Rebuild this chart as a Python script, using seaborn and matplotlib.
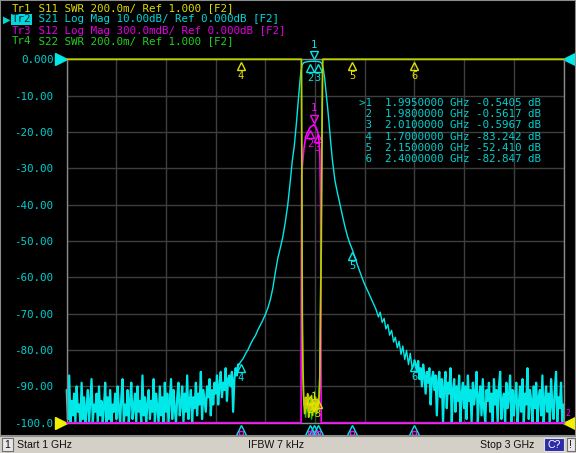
import numpy as np
import matplotlib
matplotlib.use("Agg")
import matplotlib.pyplot as plt
import seaborn as sns
from matplotlib.transforms import offset_copy
from matplotlib.patches import Rectangle

# === sweep: 1 GHz .. 3 GHz ===
f_start, f_stop = 1.0, 3.0

# S21 noise floor, left of the passband (dB)
noise_left_db = [
    -91, -99, -87, -101, -94, -98, -92, -104, -90, -97, -95, -100, -89, -99, -93, -102, -96, -91, -100, -94,
    -88, -101, -95, -97, -92, -103, -90, -98, -94, -100, -96, -89, -101, -93, -99, -91, -104, -95, -97, -92,
    -99, -90, -96, -101, -93, -88, -100, -95, -98, -91, -103, -94, -89, -99, -96, -92, -102, -90, -97, -94,
    -100, -87, -98, -93, -101, -95, -91, -99, -94, -97, -88, -102, -92, -96, -100, -90, -98, -93, -101, -89,
    -97, -92, -100, -94, -88, -99, -91, -96, -102, -93, -89, -98, -95, -90, -101, -92, -97, -87, -99, -94,
    -91, -100, -93, -96, -89, -98, -92, -95, -86, -99, -91, -94, -97, -90, -93, -88, -98, -91, -95, -89,
    -92, -87, -95, -90, -86, -93, -89, -91, -85, -94, -88, -87, -90, -86, -97, -88, -85, -87, -84,
]
# S21 filter skirts + passband
skirt_f = [
    1.695, 1.700, 1.710, 1.720, 1.730, 1.740, 1.750, 1.760, 1.770, 1.780, 1.790, 1.800, 1.810, 1.820,
    1.830, 1.840, 1.850, 1.860, 1.870, 1.880, 1.890, 1.900, 1.908, 1.916, 1.925, 1.932, 1.938, 1.943,
    1.948, 1.955, 1.965, 1.980, 1.995, 2.010, 2.020, 2.028, 2.034, 2.039, 2.043, 2.050, 2.056, 2.063,
    2.070, 2.080, 2.090, 2.096, 2.110, 2.120, 2.130, 2.140, 2.150, 2.160, 2.170, 2.180, 2.190, 2.200,
    2.215, 2.230, 2.245, 2.255, 2.262, 2.270, 2.278, 2.285, 2.293, 2.300, 2.308, 2.316, 2.323, 2.331,
    2.338, 2.346, 2.353, 2.361, 2.368, 2.376, 2.383, 2.391, 2.400,
]
skirt_db = [
    -83.9, -83.242, -82.4, -81.0, -79.9, -78.4, -77.1, -76.0, -74.4, -73.1, -71.7, -70.2, -68.4, -66.1,
    -62.9, -58.6, -54.7, -51.9, -48.9, -44.8, -40.0, -33.6, -28.0, -24.0, -17.4, -11.6, -6.8, -3.2,
    -1.5, -0.9, -0.70, -0.5617, -0.5405, -0.5967, -0.72, -1.2, -3.0, -5.6, -8.3, -13.0, -17.4, -23.0,
    -28.0, -33.4, -36.8, -38.6, -43.0, -46.0, -48.6, -50.7, -52.41, -54.4, -56.5, -58.4, -60.3, -62.0,
    -64.2, -66.5, -68.8, -70.9, -69.6, -72.4, -71.3, -74.2, -73.0, -75.9, -74.6, -77.8, -76.5, -79.4,
    -77.6, -81.2, -78.9, -82.6, -80.1, -84.0, -80.9, -85.2, -82.847,
]
# S21 noise floor, right of the passband
noise_right_db = [
    -84, -86, -83, -88, -85, -90, -84, -87, -92, -86, -89, -85, -95, -88, -86, -91, -87, -98, -89, -86,
    -93, -88, -101, -90, -86, -96, -89, -92, -85, -100, -91, -88, -97, -90, -94, -87, -102, -92, -89, -96,
    -90, -99, -87, -94, -91, -103, -89, -95, -92, -86, -100, -93, -90, -98, -88, -96, -101, -91, -94, -89,
    -97, -92, -100, -88, -95, -91, -103, -90, -86, -99, -94, -92, -101, -89, -96, -93, -87, -100, -91, -98,
    -93, -89, -102, -95, -90, -97, -88, -100, -92, -95, -85, -99, -91, -94, -103, -90, -96, -89, -101, -93,
    -91, -98, -87, -100, -94, -90, -97, -92, -102, -88, -95, -99, -91, -86, -100, -93, -96, -89, -101, -95,
]

# S12 (Log Mag 300 mdB/div)
s12_f = [1.000, 1.9435, 1.9445, 1.946, 1.950, 1.955, 1.962, 1.970, 1.980, 1.988, 1.995, 2.003,
         2.010, 2.015, 2.019, 2.022, 2.0245, 3.000]
s12_db = [-60, -6, -1.6, -0.95, -0.85, -0.74, -0.64, -0.60, -0.5617, -0.55, -0.5405, -0.56,
          -0.5967, -0.66, -0.76, -1.2, -6, -60]

# S11 / S22 (SWR 200m/div, ref 1.000 at bottom)
s11_f = [1.000, 1.9450, 1.9465, 1.9485, 1.951, 1.9545, 1.958, 1.962, 1.966, 1.970, 1.974, 1.978,
         1.982, 1.986, 1.990, 1.994, 1.998, 2.002, 2.006, 2.010, 2.014, 2.0185, 2.021, 2.025,
         2.028, 2.0305, 3.000]
s11_swr = [40, 3.3, 2.4, 1.6, 1.3, 1.12, 1.05, 1.14, 1.08, 1.16, 1.03, 1.11, 1.07, 1.15, 1.04,
           1.12, 1.06, 1.14, 1.05, 1.13, 1.08, 1.2, 1.5, 2.0, 2.6, 3.3, 40]
s22_swr = [40, 3.2, 2.3, 1.5, 1.25, 1.1, 1.09, 1.03, 1.12, 1.06, 1.15, 1.05, 1.13, 1.02, 1.10,
           1.07, 1.17, 1.04, 1.11, 1.06, 1.14, 1.25, 1.6, 2.1, 2.7, 3.4, 40]

# markers
marker_ids = ["1", "2", "3", "4", "5", "6"]
marker_f = [1.995, 1.980, 2.010, 1.700, 2.150, 2.400]
marker_s21 = [-0.5405, -0.5617, -0.5967, -83.242, -52.410, -82.847]
marker_s12 = [-0.5405, -0.5617, -0.5967]
marker_s11 = [1.05, 1.16, 1.14, 40, 40, 40]

# tick labels on the left
ytick_labels = ["-100.0", "-90.00", "-80.00", "-70.00", "-60.00", "-50.00",
                "-40.00", "-30.00", "-20.00", "-10.00", "0.000"]

header = [
    ("Tr1", " S11 SWR 200.0m/ Ref 1.000 [F2]", "#dede00"),
    ("Tr2", " S21 Log Mag 10.00dB/ Ref 0.000dB [F2]", "#00d8d8"),
    ("Tr3", " S12 Log Mag 300.0mdB/ Ref 0.000dB [F2]", "#e000e0"),
    ("Tr4", " S22 SWR 200.0m/ Ref 1.000 [F2]", "#20d020"),
]

CY, YE, MA, GR = "#00e8e8", "#c8c800", "#ff00ff", "#00d000"
TXT_CY = "#00d0d0"

sns.set_theme(style="dark")
plt.rcParams["font.family"] = ["DejaVu Sans Mono", "DejaVu Sans"]

W, H = 576, 453
fig = plt.figure(figsize=(W / 100, H / 100), dpi=100, facecolor="black")


def fx(px):
    return px / W


def fy(py):
    return 1 - py / H


ax = fig.add_axes([fx(66.7), fy(422.7), fx(563.5) - fx(66.7), fy(59.3) - fy(422.7)])
ax.set_facecolor("black")
ax.set_xlim(f_start, f_stop)
ax.set_ylim(-100, 0)
ax.set_xticks(np.linspace(f_start, f_stop, 11))
ax.set_yticks(np.linspace(-100, 0, 11))
ax.set_xticklabels([])
ax.set_yticklabels(ytick_labels, color=TXT_CY, fontsize=7.8)
ax.tick_params(length=0, pad=9.5)
ax.grid(True, color="#3e3e3e", lw=1)
for s in ax.spines.values():
    s.set_color("#8a8a8a")
    s.set_linewidth(1)

# twin axes for S12 and SWR traces
axm = ax.twinx()
axm.set_ylim(-3, 0)
axs = ax.twinx()
axs.set_ylim(1, 3)
for a in (axm, axs):
    a.set_facecolor("none")
    a.set_yticks([])
    a.grid(False)
    for s in a.spines.values():
        s.set_visible(False)

# === traces ===
nl_f = list(np.linspace(f_start, 1.690, len(noise_left_db)))
nr_f = list(np.linspace(2.405, f_stop, len(noise_right_db)))
# noisy floor a bit thicker so it fills in like the screen
sns.lineplot(x=nl_f + skirt_f[:1], y=np.clip(noise_left_db + skirt_db[:1], -100, 0), ax=ax,
             color=CY, lw=1.6, estimator=None, sort=False)
sns.lineplot(x=skirt_f[-1:] + nr_f, y=np.clip(skirt_db[-1:] + noise_right_db, -100, 0), ax=ax,
             color=CY, lw=1.6, estimator=None, sort=False)
sns.lineplot(x=skirt_f, y=np.clip(skirt_db, -100, 0), ax=ax, color=CY, lw=1,
             estimator=None, sort=False)
sns.lineplot(x=s12_f, y=np.clip(s12_db, -3, 0), ax=axm, color=MA, lw=1.2, estimator=None, sort=False)
sns.lineplot(x=s11_f, y=np.clip(s22_swr, 1, 3), ax=axs, color=GR, lw=1, estimator=None, sort=False)
sns.lineplot(x=s11_f, y=np.clip(s11_swr, 1, 3), ax=axs, color=YE, lw=1.2, estimator=None, sort=False)
for a in (ax, axm, axs):
    for ln in a.lines:
        ln.set_clip_on(False)


def mark(a, f, v, lab, col, above=False):
    sgn = 1 if above else -1
    a.plot([f], [v], marker="v" if above else "^", ms=6, mfc="none", mec=col, mew=1,
           transform=offset_copy(a.transData, fig=fig, x=0, y=sgn * 4.5, units="points"),
           clip_on=False)
    a.text(f, v, lab, color=col, fontsize=7.5, ha="center", va="center",
           transform=offset_copy(a.transData, fig=fig, x=0, y=sgn * 12, units="points"))


for i, lab in enumerate(marker_ids):
    mark(ax, marker_f[i], marker_s21[i], lab, CY, above=(i == 0))
    mark(axs, marker_f[i], min(marker_s11[i], 3), lab, "#e0e000", above=(i == 0))
    if i < len(marker_s12):
        mark(axm, marker_f[i], marker_s12[i], lab, MA, above=(i == 0))
    # off-scale indicators under the grid
    ax.plot([marker_f[i]], [-100], marker="s", ms=3.5, mfc="none", mec=MA, mew=1, clip_on=False,
            transform=offset_copy(ax.transData, fig=fig, x=0, y=-7.5, units="points"))
    ax.plot([marker_f[i]], [-100], marker="^", ms=7, mfc="none", mec=CY, mew=1, clip_on=False,
            transform=offset_copy(ax.transData, fig=fig, x=0, y=-5, units="points"))

# reference position arrows
ax.plot([-0.011], [1.0], marker=">", ms=9, color=CY, transform=ax.transAxes, clip_on=False)
ax.plot([-0.011], [0.0], marker=">", ms=9, color="#f0f000", transform=ax.transAxes, clip_on=False)
ax.plot([1.011], [1.0], marker="<", ms=9, color=CY, transform=ax.transAxes, clip_on=False)
ax.plot([1.011], [0.0], marker="<", ms=9, color="#f0f000", transform=ax.transAxes, clip_on=False)
ax.text(1.009, 0.025, "2", color=MA, fontsize=6, ha="center", va="center", transform=ax.transAxes)

# === header ===
cw = 0.602 * 7.8 * 100 / 72  # mono char width in px
for k, (tr, rest, col) in enumerate(header):
    yy = fy(8.5 + 11 * k)
    if k == 1:
        fig.text(fx(12), yy, tr, color="#102040", fontsize=7.8, va="center", ha="left",
                 bbox=dict(facecolor="#00d8d8", edgecolor="none", pad=0.6))
    else:
        fig.text(fx(12), yy, tr, color=col, fontsize=7.8, va="center", ha="left")
    fig.text(fx(12 + 3 * cw), yy, rest, color=col, fontsize=7.8, va="center", ha="left")
fig.text(fx(3), fy(19.5), "\u25b6", color="#00d8d8", fontsize=7, va="center", ha="left",
         family="DejaVu Sans")

# marker table
for k, lab in enumerate(marker_ids):
    pre = ">" if k == 0 else " "
    val = f"{marker_s21[k]:.4f}" if abs(marker_s21[k]) < 1 else f"{marker_s21[k]:.3f}"
    row = f"{pre}{lab}  {marker_f[k]:.7f} GHz {val} dB"
    fig.text(fx(359), fy(103 + 11.2 * k), row, color=TXT_CY, fontsize=7.8, va="center", ha="left")

# === status bar ===
fig.patches.append(Rectangle((0, 0), 1, fy(436), transform=fig.transFigure, facecolor="#d4d0c8",
                             edgecolor="none", zorder=0))
fig.patches.append(Rectangle((0, fy(436)), 1, 1 - fy(436), transform=fig.transFigure,
                             facecolor="none", edgecolor="#8c8c8c", lw=1.5, zorder=5))
fig.patches.append(Rectangle((fx(2), fy(451)), fx(11), fy(438) - fy(451), transform=fig.transFigure,
                             facecolor="#e8e8e8", edgecolor="#707070", lw=0.8))
fig.patches.append(Rectangle((fx(544), fy(451)), fx(20), fy(438) - fy(451), transform=fig.transFigure,
                             facecolor="#2c2ca8", edgecolor="#e0e0e0", lw=0.8))
fig.patches.append(Rectangle((fx(567), fy(451)), fx(8), fy(438) - fy(451), transform=fig.transFigure,
                             facecolor="#e8e8e8", edgecolor="#707070", lw=0.8))
sb = dict(fontsize=7.6, va="center", family="Liberation Sans", color="#101010")
fig.text(fx(7.5), fy(444.5), "1", ha="center", **sb)
fig.text(fx(17), fy(444.5), "Start 1 GHz", ha="left", **sb)
fig.text(fx(276), fy(444.5), "IFBW 7 kHz", ha="center", **sb)
fig.text(fx(534), fy(444.5), "Stop 3 GHz", ha="right", **sb)
fig.text(fx(554), fy(444.5), "C?", ha="center", fontsize=7.6, va="center", family="Liberation Sans",
         color="white")
fig.text(fx(571), fy(444.5), "!", ha="center", **sb)

fig.savefig("out.png", dpi=100, facecolor="black")
